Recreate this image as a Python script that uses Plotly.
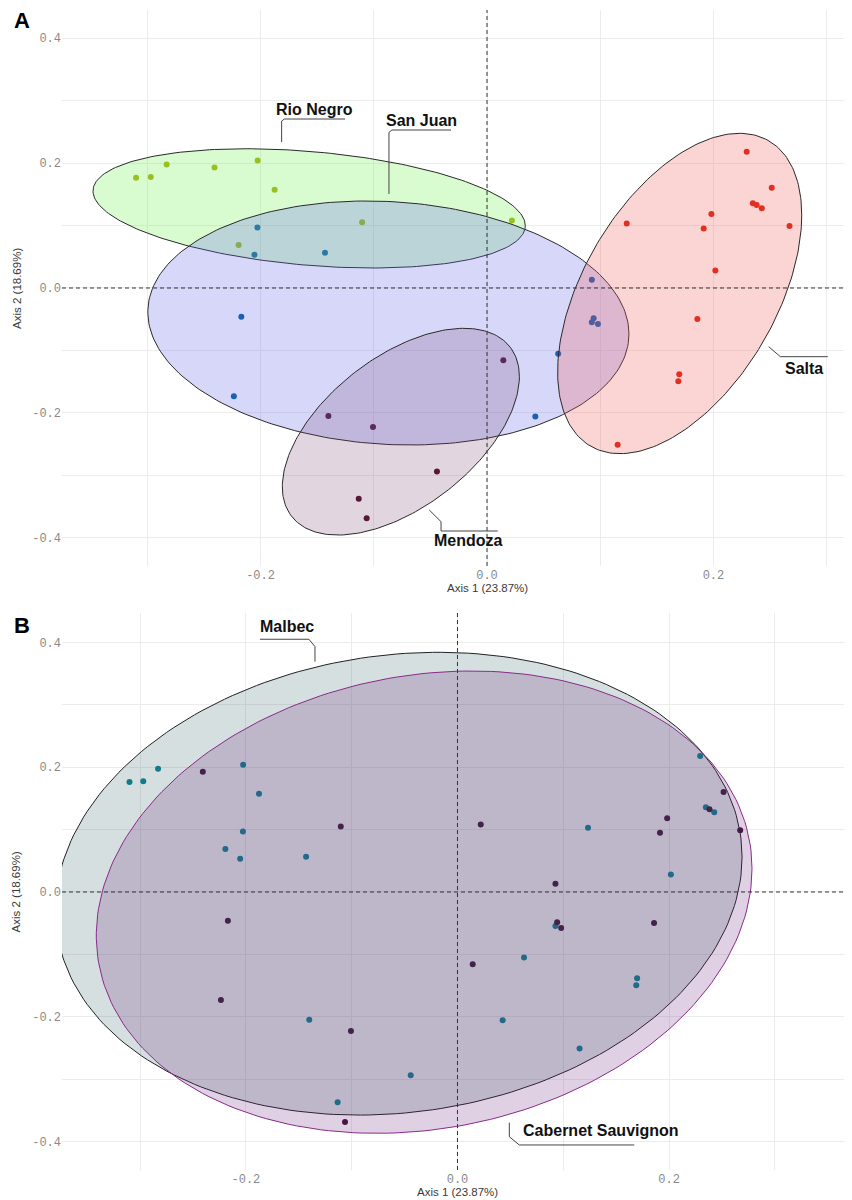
import numpy as np
import plotly.graph_objects as go

# ---------------- data ----------------
axis1 = [-0.310, -0.297, -0.283, -0.2407, -0.2026, -0.1876, -0.2194, -0.1103, 0.0220,
         -0.2028, -0.2054, -0.1431, -0.2170, -0.2236, 0.0629, 0.0427, 0.0926, 0.0942, 0.0926, 0.0980,
         -0.1401, -0.1007, -0.1133, -0.1063, 0.0144, -0.0442,
         0.2294, 0.2515, 0.2348, 0.2382, 0.2427, 0.1982, 0.1234, 0.1914, 0.2672, 0.2017,
         0.1858, 0.1698, 0.1690, 0.1154]
axis2 = [0.1764, 0.1774, 0.1976, 0.1926, 0.2039, 0.1573, 0.0688, 0.1051, 0.1081,
         0.0968, 0.0531, 0.0563, -0.0459, -0.1732, -0.1051, -0.2055, 0.0130, -0.0483, -0.0547, -0.0576,
         -0.2049, -0.2226, -0.3371, -0.3685, -0.1158, -0.2935,
         0.2180, 0.1604, 0.1356, 0.1326, 0.1276, 0.1182, 0.1030, 0.0950, 0.0990, 0.0280,
         -0.0496, -0.1382, -0.1494, -0.2509]
region = (["Rio Negro"] * 9 + ["San Juan"] * 11 + ["Mendoza"] * 6 + ["Salta"] * 14)
variety = ["Malbec", "Malbec", "Malbec", "Cabernet Sauvignon", "Malbec", "Malbec", "Malbec",
           "Cabernet Sauvignon", "Cabernet Sauvignon",
           "Malbec", "Malbec", "Malbec", "Cabernet Sauvignon", "Cabernet Sauvignon", "Malbec", "Malbec",
           "Cabernet Sauvignon", "Cabernet Sauvignon", "Malbec", "Cabernet Sauvignon",
           "Malbec", "Cabernet Sauvignon", "Malbec", "Cabernet Sauvignon", "Cabernet Sauvignon", "Malbec",
           "Malbec", "Cabernet Sauvignon", "Malbec", "Cabernet Sauvignon", "Malbec", "Cabernet Sauvignon",
           "Malbec", "Cabernet Sauvignon", "Cabernet Sauvignon", "Malbec", "Cabernet Sauvignon",
           "Malbec", "Malbec", "Malbec"]

# ellipses (data units): centre, half width, half height, y-offset at the rightmost point
region_names = ["Rio Negro", "San Juan", "Mendoza", "Salta"]
region_ell_cx = [-0.1571, -0.0871, -0.0761, 0.1702]
region_ell_cy = [0.1274, -0.0560, -0.2299, -0.0088]
region_ell_hw = [0.1909, 0.2125, 0.1047, 0.1078]
region_ell_hh = [0.0954, 0.1952, 0.1654, 0.2563]
region_ell_d = [-0.0278, -0.0176, 0.0880, 0.1254]

variety_names = ["Malbec", "Cabernet Sauvignon"]
variety_ell_cx = [-0.0555, -0.0315]
variety_ell_cy = [0.0133, -0.0163]
variety_ell_hw = [0.3245, 0.3099]
variety_ell_hh = [0.3708, 0.3704]
variety_ell_d = [0.0428, 0.0537]

x_tickvals = [-0.3, -0.2, -0.1, 0.0, 0.1, 0.2, 0.3]
x_ticktext = ["", "-0.2", "", "0.0", "", "0.2", ""]
y_tickvals = [-0.4, -0.3, -0.2, -0.1, 0.0, 0.1, 0.2, 0.3, 0.4]
y_ticktext = ["-0.4", "", "-0.2", "", "0.0", "", "0.2", "", "0.4"]

# ---------------- styles ----------------
region_point_color = {"Rio Negro": "#aab214", "San Juan": "#005fa4",
                      "Mendoza": "#4e0c2a", "Salta": "#dc230f"}
region_fill = {"Rio Negro": "rgba(99,239,67,0.25)", "San Juan": "rgba(100,100,235,0.26)",
               "Mendoza": "rgba(120,70,110,0.22)", "Salta": "rgba(240,90,90,0.26)"}
variety_point_color = {"Malbec": "#0a8398", "Cabernet Sauvignon": "#3f1238"}
variety_fill = {"Malbec": "rgba(47,95,95,0.2)", "Cabernet Sauvignon": "rgba(105,40,125,0.21)"}
variety_line = {"Malbec": "#222222", "Cabernet Sauvignon": "#8a2a8a"}


def ellipse(cx, cy, hw, hh, d, n=240):
    t = np.linspace(0, 2 * np.pi, n)
    e = np.sqrt(max(hh ** 2 - d ** 2, 0))
    return cx + hw * np.cos(t), cy + d * np.cos(t) + e * np.sin(t)


a1 = np.array(axis1)
a2 = np.array(axis2)
reg = np.array(region)
var = np.array(variety)

fig = go.Figure()

# ---- panel A: points then translucent ellipses ----
for r in region_names:
    m = reg == r
    fig.add_trace(go.Scatter(x=a1[m], y=a2[m], mode="markers", xaxis="x", yaxis="y",
                             marker=dict(size=6, color=region_point_color[r]),
                             showlegend=False, hoverinfo="skip"))
for i, r in enumerate(region_names):
    ex, ey = ellipse(region_ell_cx[i], region_ell_cy[i], region_ell_hw[i],
                     region_ell_hh[i], region_ell_d[i])
    fig.add_trace(go.Scatter(x=ex, y=ey, mode="lines", fill="toself", xaxis="x", yaxis="y",
                             fillcolor=region_fill[r], line=dict(color="#2a2a2a", width=1),
                             showlegend=False, hoverinfo="skip"))

# ---- panel B ----
for v in variety_names:
    m = var == v
    fig.add_trace(go.Scatter(x=a1[m], y=a2[m], mode="markers", xaxis="x2", yaxis="y2",
                             marker=dict(size=6, color=variety_point_color[v]),
                             showlegend=False, hoverinfo="skip"))
for i, v in enumerate(variety_names):
    ex, ey = ellipse(variety_ell_cx[i], variety_ell_cy[i], variety_ell_hw[i],
                     variety_ell_hh[i], variety_ell_d[i])
    fig.add_trace(go.Scatter(x=ex, y=ey, mode="lines", fill="toself", xaxis="x2", yaxis="y2",
                             fillcolor=variety_fill[v], line=dict(color=variety_line[v], width=1),
                             showlegend=False, hoverinfo="skip"))

tickfont = dict(family="Liberation Mono, Courier New, monospace", size=12, color="#8a8a8a")
grid = "#ececec"
common_x = dict(tickvals=x_tickvals, ticktext=x_ticktext, showgrid=True, gridcolor=grid,
                gridwidth=1, zeroline=False, showline=False, ticks="", tickfont=tickfont,
                automargin=False)
common_y = dict(tickvals=y_tickvals, ticktext=y_ticktext, showgrid=True, gridcolor=grid,
                gridwidth=1, zeroline=False, showline=False, ticks="", tickfont=tickfont,
                automargin=False)

# page body has an 8px margin, so the figure is 844x1192 and shifted accordingly
fig.update_layout(
    width=844, height=1192,
    margin=dict(l=54, r=0, t=2, b=30, autoexpand=False),
    plot_bgcolor="white", paper_bgcolor="white",
    xaxis=dict(domain=[0, 1], anchor="y", range=[-0.3754, 0.3224], **common_x),
    yaxis=dict(domain=[0.5207, 1], anchor="x", range=[-0.4448, 0.4448], **common_y),
    xaxis2=dict(domain=[0, 1], anchor="y2", range=[-0.3738, 0.3729], **common_x),
    yaxis2=dict(domain=[0, 0.4802], anchor="x2", range=[-0.4455, 0.4471], **common_y),
)

shapes = []
for xr, yr in (("x", "y"), ("x2", "y2")):
    shapes.append(dict(type="line", xref=xr, yref=yr + " domain", x0=0, x1=0, y0=0, y1=1,
                       line=dict(color="#333333", width=1, dash="4px,3px")))
    shapes.append(dict(type="line", xref=xr + " domain", yref=yr, x0=0, x1=1, y0=0, y1=0,
                       line=dict(color="#333333", width=1, dash="4px,3px")))

leader = dict(color="#444444", width=1)
label_paths = [
    ("x", "y", [(-0.1254, 0.2704), (-0.1790, 0.2704), (-0.1814, 0.2670), (-0.1814, 0.2336)]),
    ("x", "y", [(-0.0318, 0.2528), (-0.0840, 0.2528), (-0.0866, 0.2490), (-0.0866, 0.1504)]),
    ("x", "y", [(0.2488, -0.0939), (0.2591, -0.1099), (0.3010, -0.1099)]),
    ("x", "y", [(-0.0510, -0.3552), (-0.0406, -0.3739), (-0.0406, -0.3888), (0.0095, -0.3888)]),
    ("x2", "y2", [(-0.1867, 0.4050), (-0.1404, 0.4050), (-0.1347, 0.3931), (-0.1347, 0.3691)]),
    ("x2", "y2", [(0.0490, -0.3697), (0.0490, -0.3921), (0.0584, -0.4054), (0.1671, -0.4054)]),
]
for xr, yr, pts in label_paths:
    path = "M " + " L ".join(f"{px},{py}" for px, py in pts)
    shapes.append(dict(type="path", xref=xr, yref=yr, path=path, line=leader))
fig.update_layout(shapes=shapes)

lab_font = dict(family="Liberation Sans, Arial, sans-serif", size=16, color="#111111")
labels = [
    ("x", "y", -0.1526, 0.2864, "Rio Negro"),
    ("x", "y", -0.0581, 0.2688, "San Juan"),
    ("x", "y", 0.2796, -0.1296, "Salta"),
    ("x", "y", -0.0166, -0.4043, "Mendoza"),
    ("x2", "y2", -0.1613, 0.4252, "Malbec"),
    ("x2", "y2", 0.1361, -0.3825, "Cabernet Sauvignon"),
]
ann = []
for xr, yr, x, y, t in labels:
    ann.append(dict(xref=xr, yref=yr, x=x, y=y, text=f"<b>{t}</b>", showarrow=False,
                    font=lab_font, xanchor="center", yanchor="middle"))

title_font = dict(family="Liberation Sans, Arial, sans-serif", size=11.5, color="#3a3a3a")
for xr, yr in (("x", "y"), ("x2", "y2")):
    ann.append(dict(xref=xr, yref=yr + " domain", x=0, y=-0.0396, text="Axis 1 (23.87%)",
                    showarrow=False, font=title_font, xanchor="center", yanchor="middle"))
    ann.append(dict(xref="paper", yref=yr + " domain", x=-0.057, y=0.5, text="Axis 2 (18.69%)",
                    showarrow=False, font=title_font, textangle=-90,
                    xanchor="center", yanchor="middle"))
letter_font = dict(family="Liberation Sans, Arial, sans-serif", size=22, color="#000000")
ann.append(dict(xref="paper", yref="y domain", x=-0.0506, y=0.982, text="<b>A</b>",
                showarrow=False, font=letter_font, xanchor="center", yanchor="middle"))
ann.append(dict(xref="paper", yref="y2 domain", x=-0.0506, y=0.9776, text="<b>B</b>",
                showarrow=False, font=letter_font, xanchor="center", yanchor="middle"))
fig.update_layout(annotations=ann)

fig.write_html("out.html")
